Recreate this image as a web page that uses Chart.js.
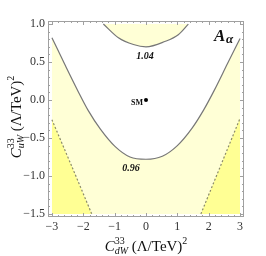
<!DOCTYPE html>
<html><head><meta charset="utf-8">
<script src="https://cdn.jsdelivr.net/npm/chart.js@4.4.1/dist/chart.umd.min.js"></script>
<style>html,body{margin:0;padding:0;background:#fff;}canvas{display:block;}</style>
</head><body>
<canvas id="c" width="266" height="256"></canvas>
<script>
// ---- data ----
const xTicks = [-3, -2, -1, 0, 1, 2, 3];
const yTicks = [-1.5, -1.0, -0.5, 0.0, 0.5, 1.0];
const xRange = [-3, 3];
const yRange = [-1.5, 1.0];
// contour A = 0.96 (lower, open upward)
const lowerX = [-3.0, -2.58, -2.16, -1.84, -1.46, -0.99, -0.51, 0.0, 0.52, 1.0, 1.47, 1.84, 2.18, 2.6, 3.0];
const lowerY = [0.82, 0.46, 0.11, -0.14, -0.38, -0.61, -0.75, -0.78, -0.74, -0.60, -0.37, -0.13, 0.13, 0.48, 0.81];
// contour A = 1.04 (upper)
const upperX = [-1.36, -0.88, -0.40, 0.0, 0.6, 1.03, 1.35];
const upperY = [1.0, 0.82, 0.73, 0.70, 0.77, 0.86, 1.0];
// dashed boundaries
const dashLX = [-3.0, -2.37, -1.73];
const dashLY = [-0.26, -0.87, -1.5];
const dashRX = [1.75, 3.0];
const dashRY = [-1.5, -0.24];
// SM point
const smX = [0];
const smY = [0];
const contourLabels = ['1.04', '0.96'];
const contourLabelX = [-0.03, -0.48];
const contourLabelY = [0.59, -0.88];

const pts = (xs, ys) => xs.map((v, i) => ({x: v, y: ys[i]}));

const PALE = 'rgb(255,255,214)';
const BRIGHT = 'rgb(255,255,148)';
const LINE = '#777777';

function drawRich(ctx, parts, x, y, align) {
  const widths = parts.map(p => {
    ctx.font = p.font;
    let w = ctx.measureText(p.t).width;
    if (p.sub) { ctx.font = p.sub.font; w = Math.max(w, ctx.measureText(p.sub.t).width); }
    return w;
  });
  const total = widths.reduce((a, b) => a + b, 0);
  let cx = align === 'center' ? x - total / 2 : x;
  parts.forEach((p, i) => {
    ctx.font = p.font;
    ctx.fillText(p.t, cx, y + (p.dy || 0));
    if (p.sub) { ctx.font = p.sub.font; ctx.fillText(p.sub.t, cx, y + p.sub.dy); }
    cx += widths[i];
  });
}

const decor = {
  id: 'decor',
  afterDatasetsDraw(ch) {
    const {ctx, chartArea: a, scales: {x, y}} = ch;
    ctx.save();
    ctx.strokeStyle = '#a0a0a0';
    ctx.lineWidth = 1;
    ctx.strokeRect(a.left + 0.5, a.top + 0.5, a.right - a.left - 1, a.bottom - a.top - 1);
    ctx.beginPath();
    for (let k = xTicks[0] * 5; k <= xTicks[xTicks.length - 1] * 5; k++) {
      const v = k / 5;
      const px = Math.round(x.getPixelForValue(v)) + 0.5;
      const L = (k % 5 === 0) ? 4 : 2;
      ctx.moveTo(px, a.bottom); ctx.lineTo(px, a.bottom - L);
      ctx.moveTo(px, a.top); ctx.lineTo(px, a.top + L);
    }
    for (let k = Math.round(yTicks[0] * 10); k <= Math.round(yTicks[yTicks.length - 1] * 10); k++) {
      const v = k / 10;
      const py = Math.round(y.getPixelForValue(v)) + 0.5;
      const L = (k % 5 === 0) ? 4 : 2;
      ctx.moveTo(a.left, py); ctx.lineTo(a.left + L, py);
      ctx.moveTo(a.right, py); ctx.lineTo(a.right - L, py);
    }
    ctx.stroke();
    ctx.restore();
  },
  afterDraw(ch) {
    const {ctx, chartArea: a, scales: {x, y}} = ch;
    ctx.save();
    ctx.fillStyle = '#111';
    ctx.textBaseline = 'alphabetic';
    ctx.textAlign = 'center';
    ctx.font = 'italic bold 10px "Liberation Serif"';
    contourLabels.forEach((t, i) => {
      ctx.fillText(t, x.getPixelForValue(contourLabelX[i]), y.getPixelForValue(contourLabelY[i]) + 4);
    });
    ctx.textAlign = 'right';
    ctx.font = 'bold 8px "Liberation Serif"';
    ctx.fillText('SM', x.getPixelForValue(smX[0]) - 3, y.getPixelForValue(smY[0]) + 5);
    ctx.textAlign = 'left';
    ctx.font = 'italic bold 17px "Liberation Serif"';
    ctx.fillText('A', a.right - 30, a.top + 20);
    ctx.font = 'italic bold 13px "Liberation Serif"';
    ctx.fillText('α', a.right - 18, a.top + 22);
    const big = '15px "Liberation Serif"';
    const bigI = 'italic 15px "Liberation Serif"';
    const small = '10px "Liberation Serif"';
    const smallI = 'italic 10px "Liberation Serif"';
    ctx.textAlign = 'left';
    const xParts = [
      {t: 'C', font: bigI},
      {t: '33', font: small, dy: -7, sub: {t: 'dW', font: smallI, dy: 3}},
      {t: ' (Λ/TeV)', font: big},
      {t: '2', font: small, dy: -7}
    ];
    drawRich(ctx, xParts, (a.left + a.right) / 2, 251, 'center');
    ctx.translate(21, (a.top + a.bottom) / 2 - 2);
    ctx.rotate(-Math.PI / 2);
    const yParts = [
      {t: 'C', font: bigI},
      {t: '33', font: small, dy: -7, sub: {t: 'uW', font: smallI, dy: 3}},
      {t: ' (Λ/TeV)', font: big},
      {t: '2', font: small, dy: -7}
    ];
    drawRich(ctx, yParts, 0, 0, 'center');
    ctx.restore();
  }
};

const fmt = v => (v < 0 ? '\u2212' : '') + Math.abs(v);
const fmtY = v => (v < 0 ? '\u2212' : '') + Math.abs(v).toFixed(1);

new Chart(document.getElementById('c'), {
  type: 'line',
  data: {
    datasets: [
      {
        data: pts(smX, smY), showLine: false, pointRadius: 2, pointBackgroundColor: '#000',
        pointBorderWidth: 0, order: 1
      },
      {
        data: pts(upperX, upperY), borderColor: LINE, borderWidth: 1.2, pointRadius: 0,
        cubicInterpolationMode: 'monotone', fill: {value: yRange[1]}, backgroundColor: PALE, order: 2
      },
      {
        data: pts(lowerX, lowerY), borderColor: LINE, borderWidth: 1.2, pointRadius: 0,
        cubicInterpolationMode: 'monotone', fill: {value: yRange[1]}, backgroundColor: '#ffffff', order: 3
      },
      {
        data: pts(dashLX, dashLY), borderColor: '#8a8a6a', borderWidth: 1.2, borderDash: [2, 2],
        pointRadius: 0, tension: 0.3, fill: {value: yRange[0]}, backgroundColor: BRIGHT, order: 4
      },
      {
        data: pts(dashRX, dashRY), borderColor: '#8a8a6a', borderWidth: 1.2, borderDash: [2, 2],
        pointRadius: 0, fill: {value: yRange[0]}, backgroundColor: BRIGHT, order: 5
      },
      {
        data: pts(xRange, [yRange[1], yRange[1]]), borderWidth: 0, borderColor: 'rgba(0,0,0,0)',
        pointRadius: 0, fill: {value: yRange[0]}, backgroundColor: PALE, order: 10
      }
    ]
  },
  options: {
    responsive: false, animation: false, devicePixelRatio: 1,
    layout: {padding: {top: 21, right: 22, left: 0, bottom: 0}},
    plugins: {legend: {display: false}, tooltip: {enabled: false}},
    scales: {
      x: {
        type: 'linear', min: -3.125, max: 3.125,
        afterBuildTicks: s => { s.ticks = xTicks.map(v => ({value: v})); },
        afterFit: s => { s.height = 39; },
        grid: {display: false, drawTicks: false}, border: {display: false},
        ticks: {callback: fmt, padding: 3, maxRotation: 0, autoSkip: false,
          font: {family: '"Liberation Serif"', size: 12}, color: '#333'}
      },
      y: {
        type: 'linear', min: -1.54, max: 1.04,
        afterBuildTicks: s => { s.ticks = yTicks.map(v => ({value: v})); },
        afterFit: s => { s.width = 48; },
        grid: {display: false, drawTicks: false}, border: {display: false},
        ticks: {callback: fmtY, padding: 3, autoSkip: false,
          font: {family: '"Liberation Serif"', size: 12}, color: '#333'}
      }
    }
  },
  plugins: [decor]
});
</script>
</body></html>
